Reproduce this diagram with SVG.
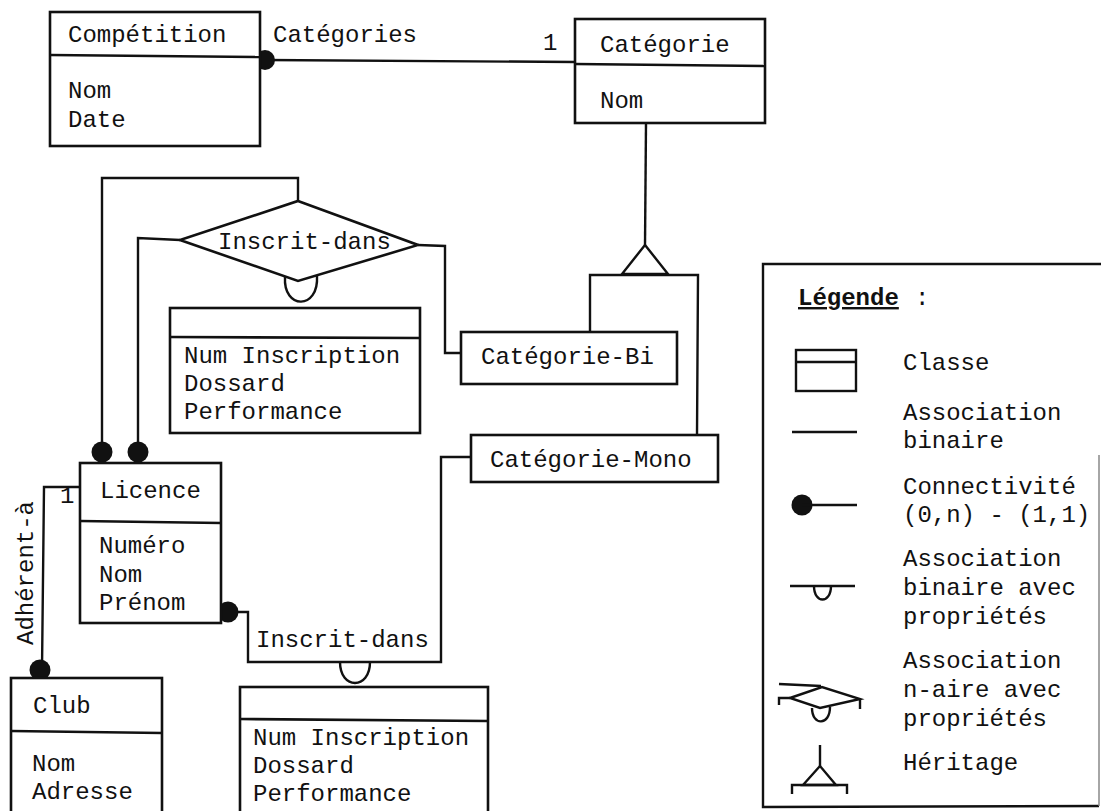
<svg xmlns="http://www.w3.org/2000/svg" width="1101" height="811" viewBox="0 0 1101 811">
  <style>
    text { font-family: "Liberation Mono", "DejaVu Sans Mono", monospace; font-size: 24px; fill: #111; }
    .box { fill: #fff; stroke: #111; stroke-width: 2.6; }
    .div { stroke: #111; stroke-width: 2.6; fill: none; }
    .ln { stroke: #111; stroke-width: 2.4; fill: none; stroke-linejoin: miter; }
    .dot { fill: #111; }
    .bold { font-weight: bold; }
  </style>
  <rect width="1101" height="811" fill="#fff"/>

  <!-- connectors -->
  <g id="connectors">
    <!-- Compétition - Catégorie -->
    <line class="ln" x1="265" y1="60" x2="575" y2="62"/>
    <circle class="dot" cx="265" cy="60" r="10"/>
    <text x="273" y="42">Catégories</text>
    <text x="543" y="50">1</text>

    <!-- inheritance Catégorie -> Bi / Mono -->
    <line class="ln" x1="646" y1="123" x2="645" y2="245"/>
    <polygon class="ln" points="645,245 622,274 668,274" fill="#fff"/>
    <polyline class="ln" points="590,332 590,275 698,275 697,435"/>

    <!-- n-ary Inscrit-dans -->
    <polyline class="ln" points="102,452 102,178 298,178 298,201"/>
    <polyline class="ln" points="138,452 138,238 180,240"/>
    <polyline class="ln" points="418,245 445,246 445,353 461,353"/>
    <circle class="dot" cx="102" cy="452" r="10.5"/>
    <circle class="dot" cx="138" cy="452" r="10.5"/>

    <!-- binary Inscrit-dans Licence - Catégorie-Mono -->
    <polyline class="ln" points="228,612 248,612 248,662 441,662 441,457 471,457"/>
    <circle class="dot" cx="228" cy="612" r="10.5"/>
    <path class="ln" d="M340,662 C340,690 370,690 370,662"/>
    <text x="256" y="647">Inscrit-dans</text>

    <!-- Adhérent-à -->
    <polyline class="ln" points="80,487 44,487 42,670"/>
    <circle class="dot" cx="40" cy="670" r="10.5"/>
    <text x="60" y="503">1</text>
    <text x="33" y="645" transform="rotate(-90 33 645)">Adhérent-à</text>
  </g>

  <!-- Compétition -->
  <g id="competition">
    <rect class="box" x="50" y="12" width="210" height="134"/>
    <line class="div" x1="50" y1="55" x2="260" y2="57"/>
    <text x="68" y="42">Compétition</text>
    <text x="68" y="98">Nom</text>
    <text x="68" y="127">Date</text>
  </g>

  <!-- Catégorie -->
  <g id="categorie">
    <rect class="box" x="575" y="19" width="190" height="104"/>
    <line class="div" x1="575" y1="64" x2="765" y2="66"/>
    <text x="600" y="52">Catégorie</text>
    <text x="600" y="108">Nom</text>
  </g>

  <!-- Catégorie-Bi -->
  <g id="categorie-bi">
    <rect class="box" x="461" y="332" width="216" height="52"/>
    <text x="481" y="364">Catégorie-Bi</text>
  </g>

  <!-- Catégorie-Mono -->
  <g id="categorie-mono">
    <rect class="box" x="471" y="435" width="247" height="47"/>
    <text x="490" y="467">Catégorie-Mono</text>
  </g>

  <!-- n-ary association Inscrit-dans with its properties -->
  <g id="inscrit-dans-naire">
    <polygon class="box" points="298,201 418,245 298,281 180,240"/>
    <text x="218" y="249">Inscrit-dans</text>
    <path class="ln" d="M285,277 C283,310 319,310 317,276"/>
    <rect class="box" x="170" y="308" width="250" height="125"/>
    <line class="div" x1="170" y1="337" x2="420" y2="338"/>
    <text x="184" y="363">Num Inscription</text>
    <text x="184" y="391">Dossard</text>
    <text x="184" y="419">Performance</text>
  </g>

  <!-- Licence -->
  <g id="licence">
    <rect class="box" x="80" y="463" width="141" height="160"/>
    <line class="div" x1="80" y1="521" x2="221" y2="523"/>
    <text x="100" y="498">Licence</text>
    <text x="99" y="553">Numéro</text>
    <text x="99" y="582">Nom</text>
    <text x="99" y="610">Prénom</text>
  </g>

  <!-- properties of binary Inscrit-dans -->
  <g id="inscrit-dans-proprietes">
    <rect class="box" x="240" y="687" width="248" height="140"/>
    <line class="div" x1="240" y1="719" x2="488" y2="721"/>
    <text x="253" y="745">Num Inscription</text>
    <text x="253" y="773">Dossard</text>
    <text x="253" y="801">Performance</text>
  </g>

  <!-- Club -->
  <g id="club">
    <rect class="box" x="11" y="678" width="151" height="150"/>
    <line class="div" x1="11" y1="731" x2="162" y2="733"/>
    <text x="33" y="713">Club</text>
    <text x="32" y="771">Nom</text>
    <text x="32" y="799">Adresse</text>
  </g>

  <!-- legend -->
  <g id="legende">
    <path class="ln" d="M1101,264 L763,264 L763,807 L1099,806"/>
    <line x1="1099" y1="455" x2="1099" y2="806" stroke="#888" stroke-width="1.5"/>
    <text x="798" y="305" class="bold" text-decoration="underline">Légende</text>
    <text x="915" y="305"> :</text>

    <rect class="ln" x="796" y="350" width="60" height="41"/>
    <line class="ln" x1="796" y1="362" x2="856" y2="362"/>
    <text x="903" y="370">Classe</text>

    <line class="ln" x1="792" y1="432" x2="857" y2="432"/>
    <text x="903" y="420">Association</text>
    <text x="903" y="448">binaire</text>

    <circle class="dot" cx="802" cy="505" r="10.5"/>
    <line class="ln" x1="802" y1="505" x2="857" y2="505"/>
    <text x="903" y="494">Connectivité</text>
    <text x="903" y="522">(0,n) - (1,1)</text>

    <line class="ln" x1="790" y1="586" x2="855" y2="586"/>
    <path class="ln" d="M814,586 C814,604 831,604 831,586"/>
    <text x="903" y="566">Association</text>
    <text x="903" y="595">binaire avec</text>
    <text x="903" y="624">propriétés</text>

    <polyline class="ln" points="779,684 821,686"/>
    <polygon class="ln" points="790,698 822,687 860,699 820,708"/>
    <polyline class="ln" points="779,705 779,698 790,698"/>
    <polyline class="ln" points="860,699 860,709"/>
    <path class="ln" d="M812,708 C812,726 830,726 830,707"/>
    <text x="903" y="668">Association</text>
    <text x="903" y="697">n-aire avec</text>
    <text x="903" y="726">propriétés</text>

    <line class="ln" x1="820" y1="745" x2="820" y2="766"/>
    <polygon class="ln" points="820,766 803,785 836,785"/>
    <polyline class="ln" points="792,794 792,785 847,785 847,794"/>
    <text x="903" y="770">Héritage</text>
  </g>
</svg>
